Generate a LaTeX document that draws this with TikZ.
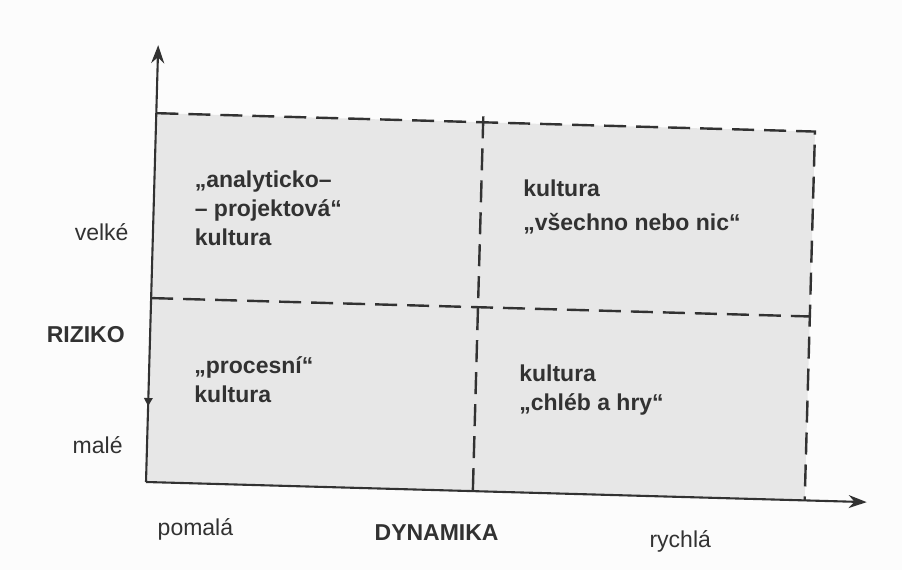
\documentclass[tikz,border=0pt]{standalone}
\usepackage{fontspec}
\setmainfont{Liberation Sans}
\usetikzlibrary{arrows.meta}
\definecolor{ink}{RGB}{50,50,50}
\definecolor{paper}{RGB}{252,252,252}
\definecolor{areagray}{RGB}{231,231,231}
\tikzset{
  axisline/.style={draw=ink, line width=2.1pt, -{Stealth[length=18pt,width=13pt]}},
  gridline/.style={draw=ink, line width=2.4pt, dash pattern=on 22pt off 10pt},
  quadtext/.style={anchor=base west, inner sep=0pt, align=left, text=ink,
    font=\fontsize{23}{29}\selectfont\bfseries},
  axtext/.style={inner sep=0pt, text=ink, font=\fontsize{23}{28}\selectfont},
  axtitle/.style={inner sep=0pt, text=ink, font=\fontsize{23}{28}\selectfont\bfseries}
}
\begin{document}
\begin{tikzpicture}[x=1pt,y=1pt]
\fill[paper] (0,0) rectangle (902,570);
\useasboundingbox (0,0) rectangle (902,570);
\begin{scope}[shift={(146,88)}, rotate=-1.6]
  \fill[areagray] (0,0) rectangle (659,369);
  \coordinate (O) at (0,0);
  \coordinate (ytip) at (0,437);
  \coordinate (xtip) at (721,0);
  \coordinate (TL) at (0,369);
  \coordinate (TR) at (659,369);
  \coordinate (BR) at (659,0);
  \coordinate (ML) at (0,184);
  \coordinate (MR) at (659,184);
  \coordinate (MT) at (327,375);
  \coordinate (MB) at (327,0);
  \draw[gridline] (TL) -- (TR) -- (BR);
  \draw[gridline] (ML) -- (MR);
  \draw[gridline] (MT) -- (MB);
  \draw[axisline] (O) -- (ytip);
  \draw[axisline] (O) -- (xtip);
  \fill[ink] (-4.5,84) -- (4.5,84) -- (0,76) -- cycle;
  % quadrant texts (anchor = baseline of last line)
  \node[quadtext] (q1) at (42,238) {„analyticko–\\– projektová“\\kultura};
  \node[quadtext] (q2) at (370,262) {kultura\\[5pt]„všechno nebo nic“};
  \node[quadtext] (q3) at (46,81) {„procesní“\\kultura};
  \node[quadtext] (q4) at (371,82) {kultura\\„chléb a hry“};
  % axis labels
  \node[axtext, anchor=base east] (velke) at (-24,241) {velké};
  \node[axtitle, anchor=base east] (riziko) at (-25,139) {RIZIKO};
  \node[axtext, anchor=base east] (male) at (-24,28) {malé};
  \node[axtext, anchor=base west] (pomala) at (13,-53) {pomalá};
  \node[axtitle, anchor=base west] (dyn) at (230,-52) {DYNAMIKA};
  \node[axtext, anchor=base west] (rychla) at (505,-51) {rychlá};
\end{scope}
\end{tikzpicture}
\end{document}
